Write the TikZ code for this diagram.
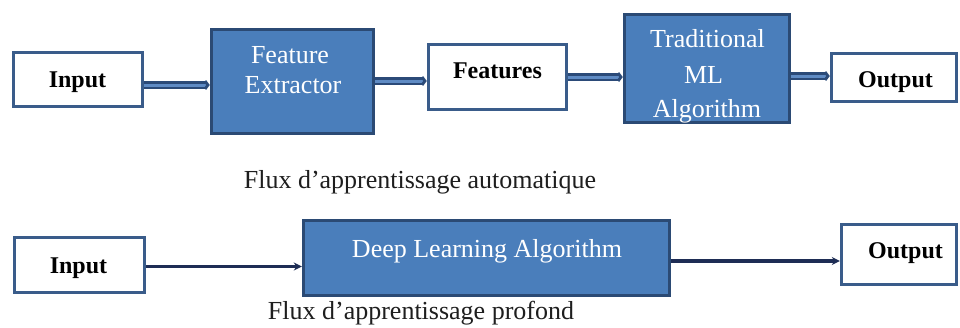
\documentclass[tikz,border=0pt]{standalone}
\usepackage{fontspec}
\setmainfont{Liberation Serif}
\usetikzlibrary{arrows.meta,calc}
\definecolor{boxblue}{HTML}{4A7EBB}
\definecolor{boxedge}{HTML}{2B4A74}
\definecolor{frameblue}{HTML}{3A5C8A}
\definecolor{linkdark}{HTML}{2B4A78}
\definecolor{linklight}{HTML}{5F8BC4}
\definecolor{navy}{HTML}{1E2D55}
\definecolor{captiongray}{HTML}{1E1E1E}

\begin{document}
\begin{tikzpicture}[x=1pt,y=-1pt,
  whitebox/.style={draw=frameblue, line width=3.4pt, fill=white, inner sep=0pt},
  bluebox/.style={draw=boxedge, line width=3.4pt, fill=boxblue, inner sep=0pt},
  boldlabel/.style={font=\fontsize{24}{28}\selectfont\bfseries, text=black, anchor=base, inner sep=0pt},
  bluelabel/.style={font=\fontsize{26}{30}\selectfont, text=white, anchor=base, inner sep=0pt},
  caption/.style={font=\fontsize{26}{30}\selectfont, text=captiongray, anchor=base, inner sep=0pt},
  pipe/.style={draw=linkdark, double=linklight, line width=2.8pt, double distance=3pt,
    -{Straight Barb[length=3pt,width=8pt]}},
  wire/.style={draw=navy, line width=3.4pt, -{Stealth[length=8pt,width=8pt]}}]

\useasboundingbox[fill=white] (0,0) rectangle (960,327);

% ---- classical machine-learning pipeline ----
\node[whitebox, minimum width=129pt, minimum height=54pt] (in1) at (78,79.5) {};
\node[bluebox, minimum width=162pt, minimum height=104pt] (fe) at (292.5,81.5) {};
\node[whitebox, minimum width=138pt, minimum height=65pt] (feat) at (497.5,77) {};
\node[bluebox, minimum width=165pt, minimum height=108pt] (tml) at (707,68.5) {};
\node[whitebox, minimum width=125pt, minimum height=48pt] (out1) at (894,77.5) {};

\node[boldlabel] (in1-t) at (77.5,87) {Input};
\node[bluelabel] (fe-t1) at (290,63) {Feature};
\node[bluelabel] (fe-t2) at (293,93) {Extractor};
\node[boldlabel] (feat-t) at (497.5,78) {Features};
\begin{scope}
  \clip ($(tml.south west)+(1.7,-1.7)$) rectangle ($(tml.north east)+(-1.7,1.7)$);
  \node[bluelabel] (tml-t1) at (707.5,47) {Traditional};
  \node[bluelabel] (tml-t2) at (703.5,83) {ML};
  \node[bluelabel] (tml-t3) at (707,117.5) {Algorithm};
\end{scope}
\node[boldlabel] (out1-t) at (895.5,87) {Output};

\draw[pipe] ([yshift=-5.5pt]in1.east) -- ([yshift=-3.5pt]fe.west);
\draw[pipe] ([yshift=0.5pt]fe.east) -- ([yshift=-4pt]feat.west);
\draw[pipe] (feat.east) -- ([yshift=-8.5pt]tml.west);
\draw[pipe] ([yshift=-7.5pt]tml.east) -- ([yshift=1.5pt]out1.west);

\node[caption] (cap1) at (420,188) {Flux d’apprentissage automatique};

% ---- deep-learning pipeline ----
\node[whitebox, minimum width=130pt, minimum height=55pt] (in2) at (79.5,265) {};
\node[bluebox, minimum width=366pt, minimum height=75pt] (dl) at (486.5,258) {};
\node[whitebox, minimum width=115pt, minimum height=60pt] (out2) at (899,254.5) {};

\node[boldlabel] (in2-t) at (78.5,273) {Input};
\node[bluelabel] (dl-t) at (487,257) {Deep Learning Algorithm};
\node[boldlabel] (out2-t) at (905.5,258) {Output};

\draw[wire] ([yshift=-1.5pt]in2.east) -- ([yshift=-8.5pt]dl.west);
\draw[wire] ([yshift=-3pt]dl.east) -- ([yshift=-6.5pt]out2.west);

\node[caption] (cap2) at (421,319) {Flux d’apprentissage profond};
\end{tikzpicture}
\end{document}
